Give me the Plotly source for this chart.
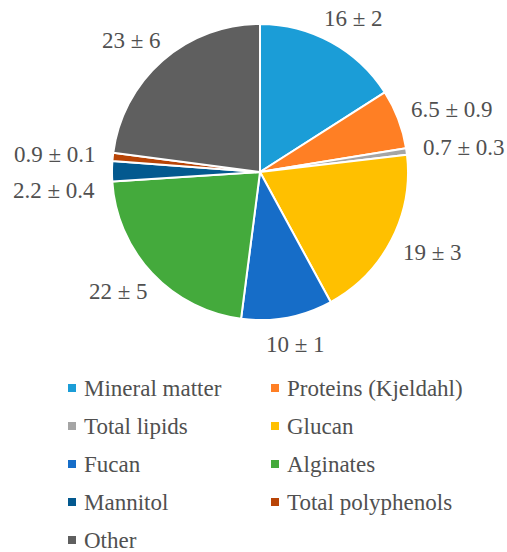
import math
import plotly.graph_objects as go

categories = ["Mineral matter", "Proteins (Kjeldahl)", "Total lipids", "Glucan",
              "Fucan", "Alginates", "Mannitol", "Total polyphenols", "Other"]
values = [16, 6.5, 0.7, 19, 10, 22, 2.2, 0.9, 23]
errors = ["2", "0.9", "0.3", "3", "1", "5", "0.4", "0.1", "6"]
colors = ["#1B9DD7", "#FF7F24", "#A5A5A5", "#FFC000", "#166DC8",
          "#44AA3C", "#03598F", "#B84406", "#5F5F5F"]

labels_txt = [f"{v:g} ± {e}" for v, e in zip(values, errors)]

W, H = 507, 552
cx, cy, R = 260, 172, 148
font_family = "Liberation Serif, Times New Roman, serif"
txt_color = "#505050"
lab_size = 23
leg_size = 23

fig = go.Figure(go.Pie(
    labels=categories,
    values=values,
    textinfo="none",
    sort=False,
    direction="clockwise",
    rotation=0,
    marker=dict(colors=colors, line=dict(color="white", width=2)),
    domain=dict(x=[(cx - R) / W, (cx + R) / W],
                y=[1 - (cy + R) / H, 1 - (cy - R) / H]),
    showlegend=False,
    hoverinfo="label+value",
))

# ---- data labels placed outside each slice (derived from values) ----
char_w = {"0": .5, "1": .5, "2": .5, "3": .5, "4": .5, "5": .5, "6": .5,
          "7": .5, "8": .5, "9": .5, ".": .25, " ": .25, "±": .564}
total = sum(values)
gap, th = 17, 20
pos = []
cum = 0
for v, t in zip(values, labels_txt):
    mid = (cum + v / 2) / total * 2 * math.pi
    cum += v
    s, c = math.sin(mid), math.cos(mid)
    w = lab_size * sum(char_w.get(ch, .5) for ch in t)
    x = cx + (R + gap) * s + w / 2 * s
    y = cy - (R + gap) * c - th / 2 * c
    pos.append([x, y, s >= 0])
# simple vertical de-overlap per side
min_gap = 36
for side in (True, False):
    idx = sorted([i for i, p in enumerate(pos) if p[2] == side], key=lambda i: pos[i][1])
    for a, b in zip(idx, idx[1:]):
        if pos[b][1] - pos[a][1] < min_gap:
            pos[b][1] = pos[a][1] + min_gap

annos = []
for (x, y, _), t in zip(pos, labels_txt):
    annos.append(dict(xref="paper", yref="paper", x=x / W, y=1 - y / H,
                      xanchor="center", yanchor="middle", showarrow=False, text=t,
                      font=dict(family=font_family, size=lab_size, color=txt_color)))

# ---- manual two-column legend ----
col_x = [72, 275]
row_y0, row_dy = 388, 38
shapes = []
for i, (cat, col) in enumerate(zip(categories, colors)):
    cc, r = i % 2, i // 2
    x = col_x[cc]
    y = row_y0 + r * row_dy
    shapes.append(dict(type="rect", xref="paper", yref="paper",
                       x0=(x - 4) / W, x1=(x + 4) / W,
                       y0=1 - (y + 4) / H, y1=1 - (y - 4) / H,
                       fillcolor=col, line=dict(width=0)))
    annos.append(dict(xref="paper", yref="paper", x=(x + 10) / W, y=1 - y / H,
                      xanchor="left", yanchor="middle", showarrow=False,
                      text=cat, font=dict(family=font_family, size=leg_size, color=txt_color)))

fig.update_layout(
    width=W, height=H,
    margin=dict(l=0, r=0, t=0, b=0),
    paper_bgcolor="white",
    plot_bgcolor="white",
    shapes=shapes,
    annotations=annos,
)

fig.write_html("out.html", config={"displayModeBar": False},
               post_script="document.body.style.margin='0px';document.body.style.overflow='hidden';")
